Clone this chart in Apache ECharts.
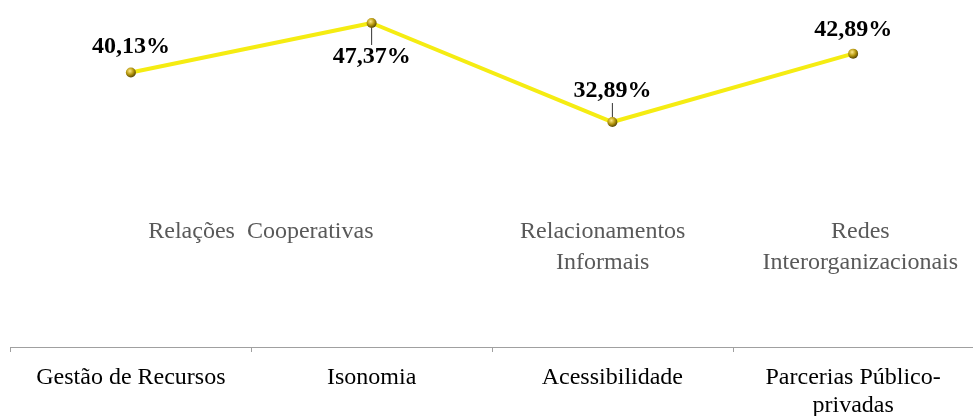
<!DOCTYPE html>
<html>
<head>
<meta charset="utf-8">
<script src="https://cdn.jsdelivr.net/npm/echarts@6/dist/echarts.min.js"></script>
<style>html,body{margin:0;padding:0;background:#fff}#c{width:973px;height:416px}</style>
</head>
<body>
<div id="c"></div>
<script>
const categories = ['Gestão de Recursos', 'Isonomia', 'Acessibilidade', 'Parcerias Público-\nprivadas'];
const values = [40.13, 47.37, 32.89, 42.89];
const groupLabels = ['Relações  Cooperativas', 'Relacionamentos\nInformais', 'Redes\nInterorganizacionais'];
const groupPositions = [1.04, 2.46, 3.53];
const labelPositions = ['top', 'bottom', 'top', 'top'];

const chart = echarts.init(document.getElementById('c'));
const labelDist = [9, 6, 6, 7];
const labelShift = [0, 11, -8, 0];
chart.setOption({
  animation: false,
  grid: [
    {left: 10.5, right: -0.5, top: 5, bottom: 69, outerBoundsMode: 'none', containLabel: false},
    {left: 10.5, right: -0.5, top: 0, bottom: 416 - 216, outerBoundsMode: 'none', containLabel: false}
  ],
  xAxis: [
    {
      type: 'category', gridIndex: 0, data: categories,
      axisLine: {lineStyle: {color: '#a0a0a0', width: 1}},
      axisTick: {show: true, interval: 0, length: 5, lineStyle: {color: '#a0a0a0'}},
      axisLabel: {interval: 0, hideOverlap: false, color: '#000', fontFamily: 'Liberation Serif', fontSize: 24, lineHeight: 28, margin: 17}
    },
    {
      type: 'value', gridIndex: 1, min: 0, max: 4,
      axisLine: {show: false}, axisTick: {show: false}, splitLine: {show: false},
      axisLabel: {
        customValues: groupPositions,
        formatter: v => { const i = groupPositions.indexOf(v); return i >= 0 ? groupLabels[i] : ''; },
        color: '#595959', fontFamily: 'Liberation Serif', fontSize: 24, lineHeight: 31, margin: 0, verticalAlign: 'top'
      }
    }
  ],
  yAxis: [
    {type: 'value', gridIndex: 0, min: 0, max: 50, show: false},
    {type: 'value', gridIndex: 1, show: false}
  ],
  series: [{
    type: 'line', xAxisIndex: 0, yAxisIndex: 0,
    data: values.map((v, i) => ({
      value: v,
      label: {position: labelPositions[i], distance: labelDist[i]},
      labelLine: {show: labelShift[i] !== 0}
    })),
    lineStyle: {color: '#F5EC12', width: 4},
    symbol: 'circle', symbolSize: 10,
    itemStyle: {
      color: {type: 'radial', x: 0.4, y: 0.35, r: 0.7, colorStops: [
        {offset: 0, color: '#FFE98A'}, {offset: 0.5, color: '#B89A10'}, {offset: 1, color: '#4A3A00'}
      ]}
    },
    label: {
      show: true, color: '#000', fontFamily: 'Liberation Serif', fontWeight: 'bold', fontSize: 24,
      formatter: p => p.value.toFixed(2).replace('.', ',') + '%'
    },
    labelLine: {show: true, lineStyle: {color: '#333', width: 1}},
    labelLayout: p => labelShift[p.dataIndex] ? {dy: labelShift[p.dataIndex]} : {}
  }]
});
</script>
</body>
</html>
